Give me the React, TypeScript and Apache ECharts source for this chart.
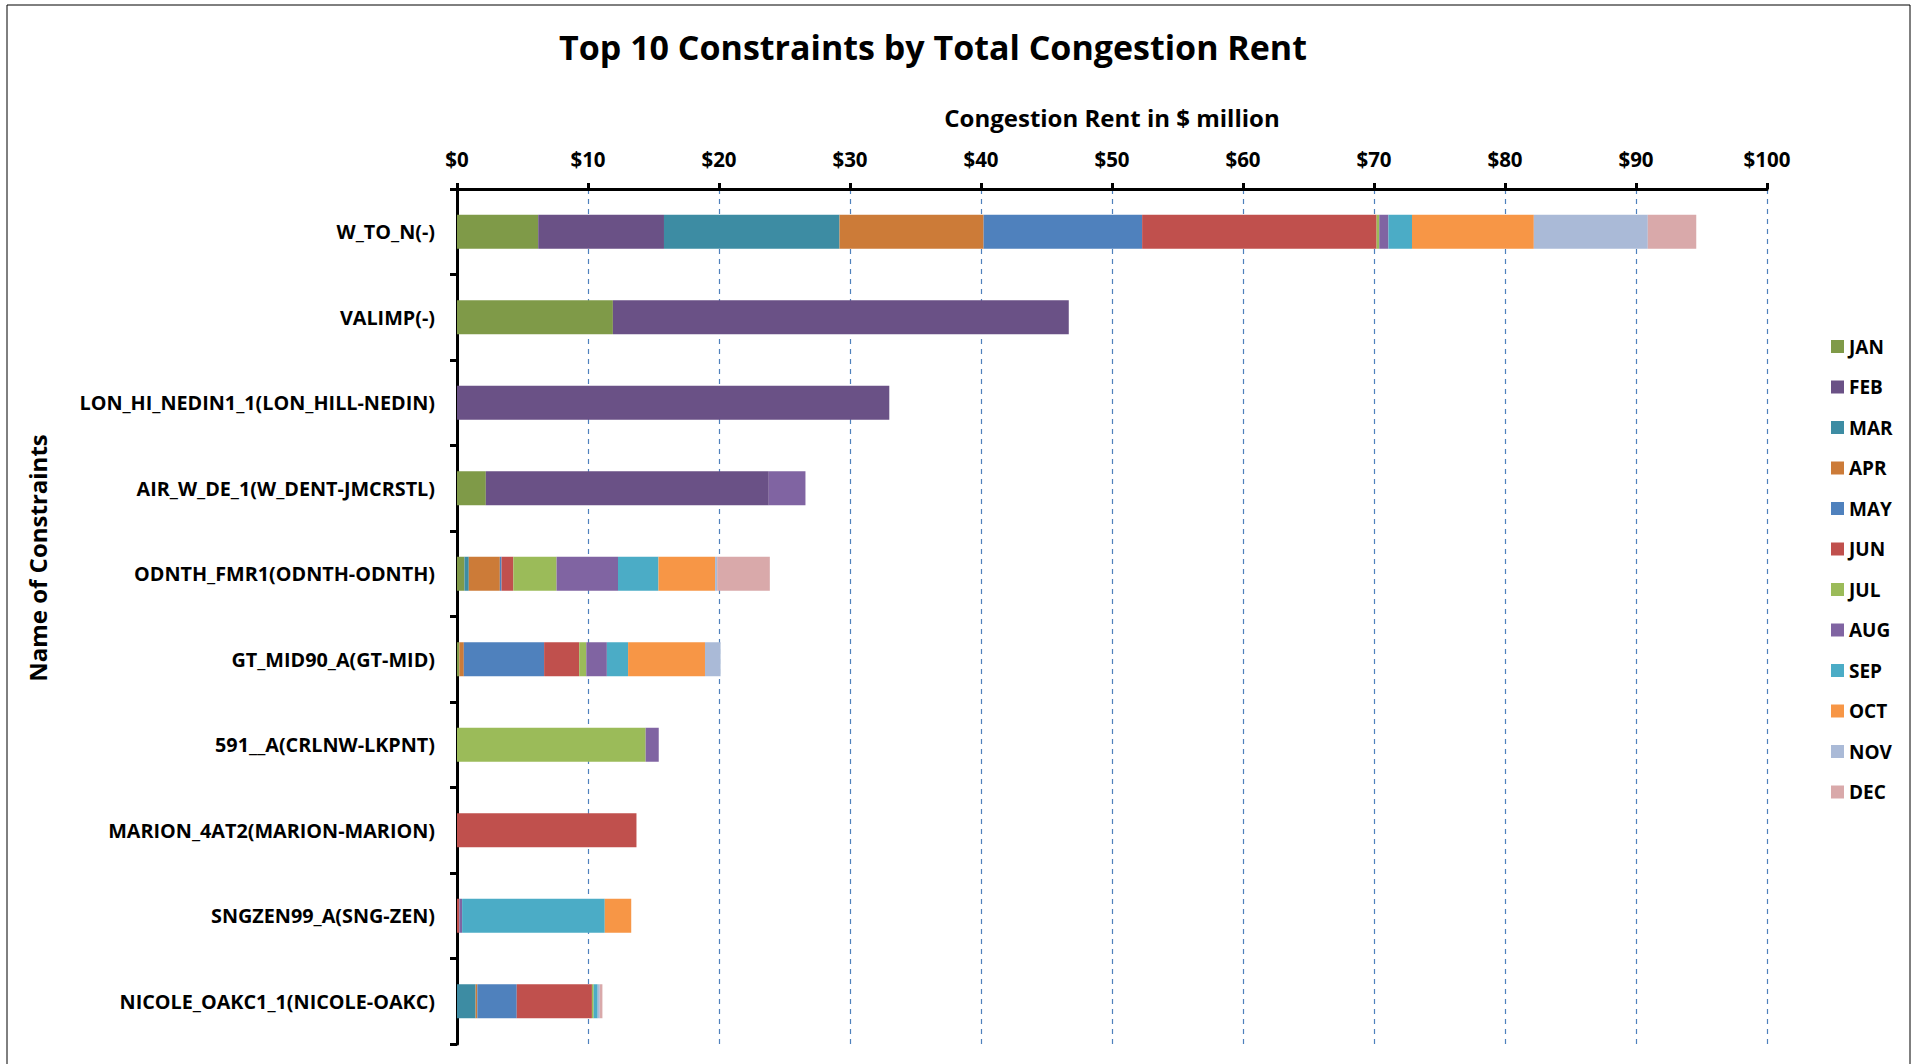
import React, { useEffect, useRef } from "react";
import * as echarts from "echarts";

const categories = [
  "W_TO_N(-)",
  "VALIMP(-)",
  "LON_HI_NEDIN1_1(LON_HILL-NEDIN)",
  "AIR_W_DE_1(W_DENT-JMCRSTL)",
  "ODNTH_FMR1(ODNTH-ODNTH)",
  "GT_MID90_A(GT-MID)",
  "591__A(CRLNW-LKPNT)",
  "MARION_4AT2(MARION-MARION)",
  "SNGZEN99_A(SNG-ZEN)",
  "NICOLE_OAKC1_1(NICOLE-OAKC)",
];
const months = ["JAN", "FEB", "MAR", "APR", "MAY", "JUN", "JUL", "AUG", "SEP", "OCT", "NOV", "DEC"];
const colors = ["#7f9a48", "#6a5186", "#3d8ca3", "#cc7b38", "#4f81bd", "#c0504d", "#9bbb59", "#8064a2", "#4bacc6", "#f79646", "#aabad7", "#d9a9aa"];
// values per month, rows in category order
const JAN = [6.2, 11.9, 0, 2.2, 0.57, 0.18, 0, 0, 0, 0];
const FEB = [9.6, 34.8, 33.0, 21.6, 0, 0, 0, 0, 0, 0];
const MAR = [13.4, 0, 0, 0, 0.33, 0, 0, 0, 0, 1.42];
const APR = [11.0, 0, 0, 0, 2.37, 0.34, 0, 0, 0, 0.13];
const MAY = [12.1, 0, 0, 0, 0.13, 6.13, 0, 0, 0, 3.01];
const JUN = [17.9, 0, 0, 0, 0.9, 2.68, 0, 13.7, 0.18, 5.74];
const JUL = [0.2, 0, 0, 0, 3.3, 0.54, 14.4, 0, 0, 0.13];
const AUG = [0.7, 0, 0, 2.8, 4.69, 1.57, 1.0, 0, 0.21, 0];
const SEP = [1.8, 0, 0, 0, 3.09, 1.62, 0, 0, 10.89, 0.31];
const OCT = [9.3, 0, 0, 0, 4.32, 5.87, 0, 0, 2.02, 0];
const NOV = [8.7, 0, 0, 0, 0.16, 1.19, 0, 0, 0, 0.16];
const DEC = [3.7, 0, 0, 0, 4.02, 0, 0, 0, 0, 0.2];
const monthData = [JAN, FEB, MAR, APR, MAY, JUN, JUL, AUG, SEP, OCT, NOV, DEC];

export default function App() {
  const ref = useRef<HTMLDivElement>(null);
  useEffect(() => {
    document.body.style.margin = "0";
    const chart = echarts.init(ref.current!, undefined, { renderer: "svg" });
    const font = "Open Sans";
    chart.setOption({
      animation: false,
      backgroundColor: "#fff",
      textStyle: { fontFamily: font },
      title: {
        text: "Top 10 Constraints by Total Congestion Rent",
        left: 928,
        textAlign: "center",
        top: 25,
        textStyle: { fontSize: 34, fontWeight: "bold", color: "#000", fontFamily: font },
      },
      graphic: [
        { type: "rect", shape: { x: 7, y: 5, width: 1903, height: 1070 }, style: { fill: "none", stroke: "#000", lineWidth: 1 } },
        {
          type: "text",
          x: 37,
          y: 558,
          rotation: Math.PI / 2,
          style: { text: "Name of Constraints", fontSize: 24, fontWeight: "bold", fill: "#000", fontFamily: font, align: "center", verticalAlign: "middle" },
        },
      ],
      legend: {
        orient: "vertical",
        left: 1826,
        top: 332,
        itemWidth: 13,
        itemHeight: 13,
        itemGap: 21.5,
        icon: "rect",
        textStyle: { fontSize: 19, fontWeight: "bold", color: "#000", fontFamily: font },
        data: months,
      },
      grid: { left: 457, right: 148, top: 189, bottom: 20, containLabel: false },
      xAxis: {
        type: "value",
        position: "top",
        min: 0,
        max: 100,
        interval: 10,
        name: "Congestion Rent in $ million",
        nameLocation: "middle",
        nameGap: 60,
        nameTextStyle: { fontSize: 24, fontWeight: "bold", color: "#000", fontFamily: font },
        axisLine: { show: true, lineStyle: { color: "#000", width: 3 } },
        axisTick: { show: true, length: 6, lineStyle: { color: "#000", width: 3 } },
        axisLabel: { formatter: "${value}", fontSize: 20.5, fontWeight: "bold", color: "#000", margin: 20 },
        splitLine: { show: true, lineStyle: { color: "#4f81bd", type: [5, 5], width: 1.2 } },
      },
      yAxis: {
        type: "category",
        inverse: true,
        data: categories,
        axisLine: { show: true, lineStyle: { color: "#000", width: 3 } },
        axisTick: { show: true, length: 7, lineStyle: { color: "#000", width: 3 } },
        axisLabel: { fontSize: 19.8, fontWeight: "bold", color: "#000", margin: 22 },
      },
      series: months.map((m, i) => ({
        name: m,
        type: "bar",
        stack: "total",
        barWidth: 34,
        data: monthData[i],
        itemStyle: { color: colors[i] },
      })),
    });
    return () => chart.dispose();
  }, []);
  return <div ref={ref} style={{ width: 1915, height: 1064 }} />;
}
